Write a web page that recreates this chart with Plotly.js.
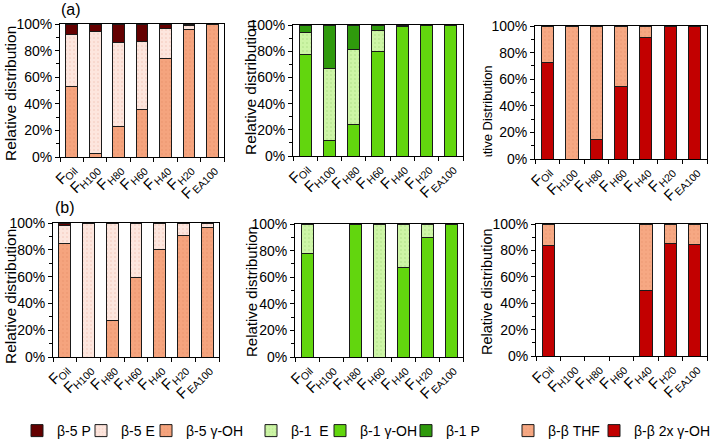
<!DOCTYPE html>
<html>
<head>
<meta charset="utf-8">
<script src="https://cdn.plot.ly/plotly-3.0.1.min.js"></script>
<style>html,body{margin:0;padding:0;background:#fff;}#chart{width:715px;height:440px;}</style>
</head>
<body>
<div id="chart"></div>
<script>
// ---- data ----
var categories = ['Oil', 'H100', 'H80', 'H60', 'H40', 'H20', 'EA100'];
var tickLabels = ['F<sub>Oil</sub>', 'F<sub>H100</sub>', 'F<sub>H80</sub>', 'F<sub>H60</sub>', 'F<sub>H40</sub>', 'F<sub>H20</sub>', 'F<sub>EA100</sub>'];

// (a) beta-5
var a_b5_OH = [53, 3, 23, 35.5, 74, 96, 100];
var a_b5_E  = [39, 91, 63, 51, 22.5, 3, null];
var a_b5_P  = [8, 6, 14, 13.5, 3.5, 1, null];
// (a) beta-1
var a_b1_OH = [77.5, 12, 24, 80, 99, 100, 100];
var a_b1_E  = [17, 55, 57, 15.5, null, null, null];
var a_b1_P  = [5.5, 33, 19, 4.5, 1, null, null];
// (a) beta-beta
var a_bb_OH2 = [72.5, null, 15, 54.5, 91, 100, 100];
var a_bb_THF = [27.5, 100, 85, 45.5, 9, null, null];

// (b) beta-5
var b_b5_OH = [85, null, 27, 59.5, 80.5, 91, 96.5];
var b_b5_E  = [13, 100, 73, 40.5, 19.5, 9, 3.5];
var b_b5_P  = [2, null, null, null, null, null, null];
// (b) beta-1
var b_b1_OH = [78, null, 100, null, 67, 90, 100];
var b_b1_E  = [22, null, null, 100, 33, 10, null];
var b_b1_P  = [null, null, null, null, null, null, null];
// (b) beta-beta
var b_bb_OH2 = [84, null, null, null, 49.5, 85.5, 84.5];
var b_bb_THF = [16, null, null, null, 50.5, 14.5, 15.5];

var seriesNames = {
  b5P: 'β-5 P', b5E: 'β-5 E', b5OH: 'β-5 γ-OH',
  b1E: 'β-1\u00a0 E', b1OH: 'β-1 γ-OH', b1P: 'β-1 P',
  bbTHF: 'β-β THF', bbOH2: 'β-β 2x γ-OH'
};

// ---- styles ----
var W = 715, H = 440;
function px(x) { return x / W; }
function py(y) { return 1 - y / H; }
var FONT = 'Arial, "Liberation Sans", sans-serif';

var styles = {
  b5P:  {color: '#640000'},
  b5E:  {color: '#fde6de', pattern: {shape: '.', bgcolor: '#fde6de', fgcolor: '#f3c6b8', size: 4, solidity: 0.12, fillmode: 'replace'}},
  b5OH: {color: '#f5a47e', pattern: {shape: '.', bgcolor: '#f5a47e', fgcolor: '#e9926b', size: 4, solidity: 0.1, fillmode: 'replace'}},
  b1E:  {color: '#cdf5a6', pattern: {shape: '.', bgcolor: '#cdf5a6', fgcolor: '#addf85', size: 4, solidity: 0.12, fillmode: 'replace'}},
  b1OH: {color: '#62d60e'},
  b1P:  {color: '#2f9a0c'},
  bbTHF:{color: '#f6a883', pattern: {shape: '.', bgcolor: '#f6a883', fgcolor: '#ea9670', size: 4, solidity: 0.1, fillmode: 'replace'}},
  bbOH2:{color: '#c20000'}
};
var legendOf = {b5P: 'legend', b5E: 'legend2', b5OH: 'legend3', b1E: 'legend4', b1OH: 'legend5', b1P: 'legend6', bbTHF: 'legend7', bbOH2: 'legend8'};

function bar(key, yvals, ax, show) {
  var st = styles[key];
  var m = {color: st.color, line: {color: '#1a1a1a', width: 1}};
  if (st.pattern) m.pattern = st.pattern;
  return {
    type: 'bar', x: categories, y: yvals, name: seriesNames[key],
    xaxis: 'x' + ax, yaxis: 'y' + ax, marker: m,
    legend: legendOf[key], showlegend: show, hoverinfo: 'name+y'
  };
}

var data = [
  bar('b5OH', a_b5_OH, '', true), bar('b5E', a_b5_E, '', true), bar('b5P', a_b5_P, '', true),
  bar('b1OH', a_b1_OH, '2', true), bar('b1E', a_b1_E, '2', true), bar('b1P', a_b1_P, '2', true),
  bar('bbOH2', a_bb_OH2, '3', true), bar('bbTHF', a_bb_THF, '3', true),
  bar('b5OH', b_b5_OH, '4', false), bar('b5E', b_b5_E, '4', false), bar('b5P', b_b5_P, '4', false),
  bar('b1OH', b_b1_OH, '5', false), bar('b1E', b_b1_E, '5', false), bar('b1P', b_b1_P, '5', false),
  bar('bbOH2', b_bb_OH2, '6', false), bar('bbTHF', b_bb_THF, '6', false)
];

// plot areas in pixels: [left, right, top, bottom]
var boxes = [
  [60, 224, 24, 157],
  [293, 463, 25, 156],
  [535, 707, 26, 159],
  [53, 219, 223, 357],
  [295, 463, 224, 357],
  [536, 707, 224, 356]
];

var layout = {
  width: W, height: H,
  margin: {l: 0, r: 0, t: 0, b: 0, autoexpand: false},
  paper_bgcolor: '#ffffff', plot_bgcolor: '#ffffff',
  barmode: 'stack', bargap: 0.5,
  font: {family: FONT, color: '#000', size: 14},
  showlegend: true,
  annotations: []
};

// split "F<sub>xx</sub>" labels into the main letter and its subscript
var MAIN_SIZE = 15, SUB_SIZE = 10.5;
var EM = {F: 0.611, O: 0.778, i: 0.222, l: 0.222, H: 0.722, E: 0.667, A: 0.667};
function textWidth(str, size) {
  var w = 0;
  for (var k = 0; k < str.length; k++) { w += (EM[str[k]] !== undefined ? EM[str[k]] : 0.556); }
  return w * size;
}
var mainText = [], subText = [];
tickLabels.forEach(function (t) {
  var p = t.match(/^(.*)<sub>(.*)<\/sub>$/);
  // the main letter is padded with no-break spaces so that it ends where its subscript starts
  var n = Math.round(textWidth(p[2], SUB_SIZE) / (0.278 * MAIN_SIZE));
  mainText.push(p[1] + new Array(n + 1).join('\u00a0'));
  subText.push(p[2]);
});

var nPanels = boxes.length;
boxes.forEach(function (b, i) {
  var s = i === 0 ? '' : String(i + 1);
  var sub = String(i + 1 + nPanels);
  layout['xaxis' + s] = {
    domain: [px(b[0]), px(b[1])], anchor: 'y' + s,
    type: 'category', categoryarray: categories, categoryorder: 'array', range: [-0.5, 6.5],
    tickmode: 'array', tickvals: categories, ticktext: mainText,
    tickson: 'boundaries', ticks: 'outside', ticklen: 4, tickcolor: '#000',
    tickangle: -45, tickfont: {family: FONT, size: MAIN_SIZE, color: '#000'},
    ticklabelstandoff: -4,
    showline: true, linecolor: '#000', linewidth: 1, mirror: true,
    showgrid: false, zeroline: false, fixedrange: true
  };
  // overlaid axis carrying the subscripts
  layout['xaxis' + sub] = {
    overlaying: 'x' + s, anchor: 'y' + s, side: 'bottom',
    type: 'category', categoryarray: categories, categoryorder: 'array', range: [-0.5, 6.5],
    tickmode: 'array', tickvals: categories, ticktext: subText,
    ticks: 'outside', ticklen: 4, tickcolor: 'rgba(0,0,0,0)',
    tickangle: -45, tickfont: {family: FONT, size: SUB_SIZE, color: '#000'},
    ticklabelshift: 3, ticklabelstandoff: -1,
    showline: false, showgrid: false, zeroline: false, fixedrange: true
  };
  // empty trace so that the subscript axis is laid out
  data.push({
    type: 'scatter', mode: 'markers', x: categories, y: categories.map(function () { return null; }),
    xaxis: 'x' + sub, yaxis: 'y' + s, showlegend: false, hoverinfo: 'skip'
  });
  layout['yaxis' + s] = {
    domain: [py(b[3]), py(b[2])], anchor: 'x' + s,
    range: [0, 100], dtick: 20, ticksuffix: '%',
    ticks: 'outside', ticklen: 4, tickcolor: '#000',
    minor: {dtick: 10, ticks: 'outside', ticklen: 3, tickcolor: '#000'},
    tickfont: {family: FONT, size: 14, color: '#000'},
    showline: true, linecolor: '#000', linewidth: 1, mirror: true,
    showgrid: false, zeroline: false, fixedrange: true
  };
});

// y-axis titles
var yTitles = [
  {text: 'Relative distribution', x: 10, y: 94, size: 15.5},
  {text: 'Relative distribution', x: 251, y: 88, size: 15.5},
  {text: 'Relative Distribution', x: 487, y: 123, size: 13},
  {text: 'Relative distribution', x: 10, y: 297, size: 15.5},
  {text: 'Relative distribution', x: 251, y: 292, size: 15},
  {text: 'Relative distribution', x: 487, y: 292, size: 14.5}
];
yTitles.forEach(function (t) {
  layout.annotations.push({
    xref: 'paper', yref: 'paper', x: px(t.x), y: py(t.y),
    text: t.text, textangle: -90, showarrow: false,
    xanchor: 'center', yanchor: 'middle',
    font: {family: FONT, size: t.size, color: '#000'}
  });
});
// the third title is cut off at its start in the reference
layout.annotations.push({
  xref: 'paper', yref: 'paper', x: px(487), y: py(175), text: ' ',
  width: 22, height: 36, bgcolor: '#ffffff', showarrow: false,
  xanchor: 'center', yanchor: 'middle', borderpad: 0
});
// panel labels
layout.annotations.push({xref: 'paper', yref: 'paper', x: px(71), y: py(9), text: '(a)', showarrow: false,
  xanchor: 'center', yanchor: 'middle', font: {family: FONT, size: 16, color: '#000'}});
layout.annotations.push({xref: 'paper', yref: 'paper', x: px(65), y: py(207), text: '(b)', showarrow: false,
  xanchor: 'center', yanchor: 'middle', font: {family: FONT, size: 16, color: '#000'}});

// legends: one per entry, text start positions in px
var legendTextX = {legend: 57, legend2: 121, legend3: 186, legend4: 291, legend5: 360, legend6: 446, legend7: 548, legend8: 634};
Object.keys(legendTextX).forEach(function (k) {
  layout[k] = {
    orientation: 'h', x: px(legendTextX[k] - 40), xanchor: 'left',
    y: -7 / H, yanchor: 'bottom', bgcolor: 'rgba(0,0,0,0)', borderwidth: 0,
    font: {family: FONT, size: 14, color: '#000'}
  };
});

Plotly.newPlot('chart', data, layout, {displayModeBar: false, staticPlot: true});
</script>
</body>
</html>
